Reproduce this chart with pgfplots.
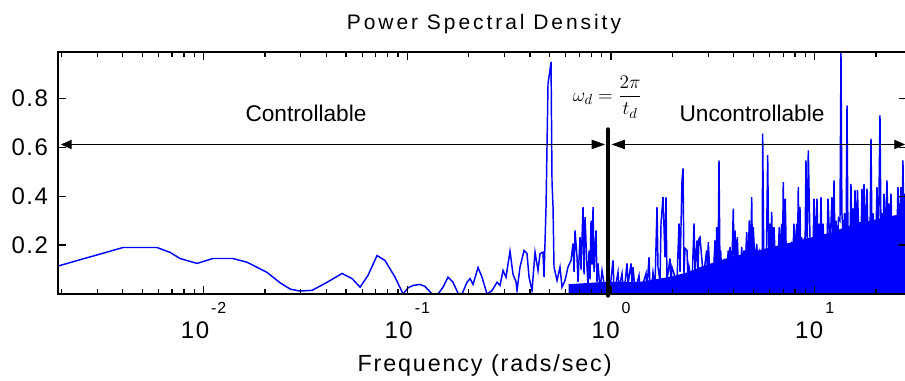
\documentclass[border=0pt]{standalone}
\usepackage{pgfplots}
\pgfplotsset{compat=1.18}
\usepackage{amsmath}
\usepackage{fontspec}
\setmainfont{Liberation Sans}
\newfontfamily\mlfont[LetterSpace=14]{Liberation Sans}
\newfontfamily\mlfontB[LetterSpace=8]{Liberation Sans}
\newfontfamily\mlfontT[LetterSpace=6]{Liberation Sans}
\usetikzlibrary{arrows.meta}
\newcommand{\tl}[1]{10\hspace{1.5pt}\raisebox{19pt}{\fontsize{12}{14}\selectfont #1}}
\begin{document}
\begin{tikzpicture}
\useasboundingbox (0,0) rectangle (678.75pt,285.75pt);
\begin{axis}[
 at={(43.5pt,65.25pt)}, anchor=south west,
 scale only axis, width=636.75pt, height=181.35pt,
 xmode=log, xmin=0.001927, xmax=28.39, ymin=0, ymax=0.988,
 axis line style={line width=1.1pt},
 tick align=inside, xtick pos=both, ytick pos=both,
 major tick length=6pt, minor tick length=3.75pt,
 every tick/.style={black, line width=0.9pt},
 xtick={0.01,0.1,1,10},
 xticklabels={\tl{-2},\tl{-1},\tl{0},\tl{1}},
 minor xtick={0.002,0.003,0.004,0.005,0.006,0.007,0.008,0.009,0.02,0.03,0.04,0.05,0.06,0.07,0.08,0.09,0.2,0.3,0.4,0.5,0.6,0.7,0.8,0.9,2,3,4,5,6,7,8,9,20},
 ytick={0.2,0.4,0.6,0.8},
 yticklabels={0.2,0.4,0.6,0.8},
 xticklabel style={font=\mlfontT\fontsize{18}{20}\selectfont, anchor=base, yshift=-33.4pt, xshift=0pt},
 yticklabel style={font=\mlfontT\fontsize{18}{20}\selectfont, xshift=-4pt},
 axis on top,
]
\addplot[fill=blue, draw=none] coordinates {
(0.62,0) (0.62,0.04) (0.95,0.05) (0.95,0)
} \closedcycle;
\addplot[fill=blue, draw=none] coordinates {
(0.9558,0) (0.9777,0.05) (1.388,0.05) (1.948,0.07) (2.4154,0.09) (2.735,0.11) (3.839,0.15) (5.389,0.18) (7.563,0.21) (9.481,0.23) (11.89,0.25) (14.90,0.28) (18.69,0.30) (27.75,0.33) (28.6,0.33) (28.6,0)
} \closedcycle;
\addplot[blue, line width=1.1pt] coordinates {
(0.001927,0.114) (0.00247,0.140) (0.00310,0.163) (0.00402,0.190) (0.00590,0.190) (0.00684,0.170) (0.00766,0.145) (0.00928,0.125) (0.0111,0.145) (0.0139,0.145) (0.0163,0.130) (0.0205,0.088) (0.0237,0.046) (0.0266,0.020) (0.0297,0.012) (0.0341,0.015) (0.0404,0.048) (0.0478,0.084) (0.0535,0.063) (0.0586,0.028) (0.0641,0.076) (0.0710,0.157) (0.0777,0.137) (0.0870,0.069) (0.0953,0.0) (0.1008,0.025) (0.1067,0.035) (0.1154,0.039) (0.1221,0.031) (0.1322,0.0) (0.1415,0.0) (0.1497,0.028) (0.1584,0.069) (0.1676,0.048) (0.1774,0.003) (0.1856,0.0) (0.1964,0.048) (0.2032,0.063) (0.2102,0.039) (0.2224,0.108) (0.2326,0.069) (0.2461,0.0) (0.2604,0.014) (0.2757,0.048) (0.2852,0.035) (0.2950,0.096) (0.3052,0.069) (0.3193,0.175) (0.3303,0.080) (0.3417,0.050) (0.3456,0.014) (0.3575,0.110) (0.3741,0.178) (0.3870,0.165) (0.3958,0.069) (0.4095,0.014) (0.4236,0.171) (0.4382,0.096) (0.4482,0.165) (0.4636,0.171) (0.4689,0.069) (0.4797,0.355) (0.4906,0.860) (0.4962,0.887) (0.5076,0.948) (0.5133,0.457) (0.5192,0.355) (0.5250,0.110) (0.5431,0.055) (0.5618,0.110) (0.5747,0.028) (0.5945,0.055) (0.6150,0.110) (0.6362,0.137) (0.6508,0.206) (0.6582,0.090) (0.6657,0.260) (0.6810,0.150) (0.6887,0.050) (0.7045,0.232) (0.7125,0.100) (0.7288,0.355) (0.7371,0.080) (0.7455,0.314) (0.7625,0.110) (0.7712,0.030) (0.7800,0.178) (0.7888,0.060) (0.7978,0.300) (0.8069,0.120) (0.8161,0.355) (0.8254,0.090) (0.8439,0.260) (0.8535,0.050) (0.8633,0.125) (0.8831,0.014) (0.9033,0.096) (0.9239,0.043) (0.9451,0.010) (0.9667,0.080) (0.9888,0.020) (1.0228,0.137) (1.0344,0.020) (1.0581,0.043) (1.0823,0.089) (1.0947,0.020) (1.1324,0.084) (1.1452,0.030) (1.1714,0.043) (1.1982,0.125) (1.2121,0.040) (1.2536,0.125) (1.2679,0.030) (1.2823,0.110) (1.3118,0.020) (1.3417,0.043) (1.3725,0.076) (1.3881,0.020) (1.4357,0.043) (1.4852,0.084) (1.5020,0.020) (1.5365,0.150) (1.5541,0.030) (1.5897,0.043) (1.6077,0.089) (1.6443,0.030) (1.6819,0.355) (1.7010,0.110) (1.7399,0.050) (1.7600,0.288) (1.8002,0.396) (1.8413,0.150) (1.8621,0.396) (1.8833,0.055) (1.9479,0.145) (1.9701,0.040) (1.9925,0.110) (2.0380,0.084) (2.0845,0.030) (2.1086,0.055) (2.1567,0.288) (2.1812,0.090) (2.2313,0.464) (2.2567,0.513) (2.2823,0.080) (2.3084,0.186) (2.3613,0.178) (2.3886,0.050) (2.4154,0.110) (2.4986,0.043) (2.5562,0.288) (2.5853,0.080) (2.6443,0.219) (2.6743,0.100) (2.7040,0.227)
(2.735,0.232) (2.839,0.070) (2.949,0.178) (2.976,0.080) (3.004,0.212) (3.062,0.070) (3.122,0.089) (3.178,0.070) (3.240,0.219) (3.277,0.100) (3.302,0.273) (3.352,0.080) (3.390,0.546) (3.428,0.090) (3.455,0.178) (3.495,0.080) (3.535,0.083) (3.587,0.080) (3.627,0.123) (3.688,0.080) (3.765,0.178) (3.805,0.090) (3.839,0.192) (3.913,0.090) (3.985,0.349) (4.025,0.100) (4.061,0.260) (4.117,0.100) (4.169,0.232) (4.216,0.120) (4.263,0.089) (4.322,0.100) (4.381,0.192) (4.446,0.100) (4.497,0.178) (4.562,0.110) (4.636,0.253) (4.705,0.110) (4.774,0.301) (4.839,0.110) (4.906,0.396) (4.950,0.120) (4.995,0.273) (5.092,0.120) (5.191,0.205) (5.267,0.120) (5.345,0.164) (5.419,0.120) (5.492,0.151) (5.524,0.130) (5.555,0.655) (5.625,0.130) (5.701,0.151) (5.786,0.130) (5.878,0.567) (5.952,0.130) (6.034,0.287) (6.088,0.140) (6.149,0.335) (6.227,0.140) (6.313,0.273) (6.406,0.140) (6.509,0.151) (6.602,0.140) (6.701,0.273) (6.794,0.140) (6.885,0.287) (6.949,0.150) (7.011,0.457) (7.093,0.150) (7.173,0.390) (7.254,0.150) (7.336,0.205) (7.420,0.150) (7.504,0.178) (7.607,0.150) (7.710,0.192) (7.807,0.150) (7.913,0.287) (8.031,0.160) (8.158,0.287) (8.233,0.160) (8.306,0.437) (8.393,0.160) (8.467,0.355) (8.547,0.160) (8.633,0.232) (8.762,0.160) (8.860,0.205) (8.962,0.170) (9.062,0.546) (9.187,0.170) (9.301,0.587) (9.513,0.170) (9.697,0.170) (9.811,0.180) (9.921,0.390) (10.09,0.180) (10.26,0.390) (10.38,0.180) (10.50,0.287) (10.62,0.180) (10.74,0.396) (10.86,0.180) (10.99,0.287) (11.11,0.190) (11.24,0.212) (11.30,0.180) (11.36,0.158) (11.49,0.190) (11.62,0.390) (11.89,0.190) (12.16,0.396) (12.30,0.200) (12.44,0.464) (12.58,0.200) (12.72,0.300) (12.94,0.200) (13.09,0.310) (13.31,0.300) (13.46,0.990) (13.60,0.330) (13.85,0.210) (14.00,0.330) (14.25,0.210) (14.41,0.771) (14.57,0.210) (14.73,0.260) (14.90,0.210) (15.07,0.450) (15.24,0.220) (15.41,0.350) (15.59,0.220) (15.77,0.424) (16.04,0.220) (16.22,0.424) (16.50,0.220) (16.69,0.294) (16.88,0.220) (17.07,0.430) (17.26,0.220) (17.46,0.450) (17.75,0.220) (18.06,0.430) (18.27,0.220) (18.47,0.232) (18.69,0.220) (18.90,0.635) (19.11,0.230) (19.33,0.330) (19.55,0.230) (19.77,0.240) (19.99,0.230) (20.22,0.437) (20.57,0.230) (20.92,0.730) (21.16,0.230) (21.40,0.330) (21.64,0.240) (21.89,0.410) (22.26,0.240) (22.64,0.464) (22.89,0.240) (23.16,0.370) (23.42,0.240) (23.69,0.410) (23.96,0.240) (24.23,0.228) (24.64,0.240) (25.06,0.315) (25.35,0.250) (25.63,0.437) (26.09,0.250) (26.53,0.437) (26.82,0.250) (27.12,0.546) (27.43,0.260) (27.75,0.410) (28.07,0.300) (28.60,0.350)
};
\coordinate (vt) at (axis cs:0.9667,0.672);
\coordinate (vb) at (axis cs:0.9667,-0.006);
\coordinate (la) at (axis cs:0.001993,0.611);
\coordinate (lb) at (axis cs:0.9344,0.611);
\coordinate (ra) at (axis cs:1.0057,0.611);
\coordinate (rb) at (axis cs:27.77,0.611);
\end{axis}
\draw[line width=0.6pt, {Triangle[length=8pt,width=7pt]}-{Triangle[length=10pt,width=7pt]}] (la) -- (lb);
\draw[line width=0.6pt, {Triangle[length=10pt,width=7pt]}-{Triangle[length=8pt,width=7pt]}] (ra) -- (rb);
\draw[line width=3.4pt, line cap=round] (vt) -- (vb);
\node[anchor=base, inner sep=0, font=\fontsize{17}{20}\selectfont] at (229.5pt,194.5pt) {Controllable};
\node[anchor=base, inner sep=0, font=\fontsize{17}{20}\selectfont] at (564pt,194.5pt) {Uncontrollable};
\node[anchor=base, inner sep=0, font=\mlfont\fontsize{15.75}{18}\selectfont] at (363pt,263.8pt) {Power Spectral Density};
\node[anchor=base, inner sep=0, font=\mlfontB\fontsize{17.5}{20}\selectfont] at (363.4pt,7pt) {Frequency (rads/sec)};
\node[inner sep=0, font=\fontsize{15}{17}\selectfont] at (455.6pt,213pt) {$\omega_d=\dfrac{2\pi}{t_d}$};
\end{tikzpicture}
\end{document}
